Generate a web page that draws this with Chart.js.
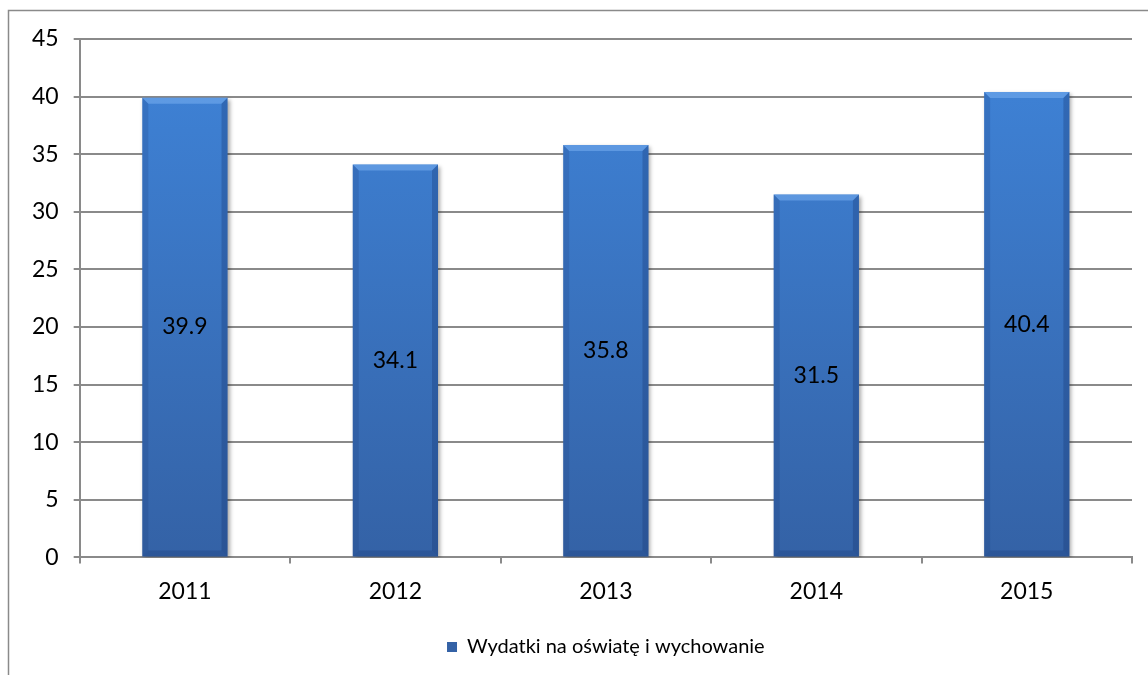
<!DOCTYPE html>
<html>
<head>
<meta charset="utf-8">
<script src="https://cdn.jsdelivr.net/npm/chart.js@4/dist/chart.umd.min.js"></script>
<style>
  html, body { margin: 0; padding: 0; background: #fff; }
  #wrap { width: 1148px; height: 675px; }
</style>
</head>
<body>
<div id="wrap"><canvas id="chart"></canvas></div>
<script>
// data
const years = ['2011', '2012', '2013', '2014', '2015']
const spending = [39.9, 34.1, 35.8, 31.5, 40.4]
const seriesName = 'Wydatki na oświatę i wychowanie'
const yTicks = { min: 0, max: 45, step: 5 }

const FONT = 'Lato, Carlito, Calibri, sans-serif'

// bar colour: blue fading darker towards the bottom
const barFill = (context) => {
  const { ctx, chartArea } = context.chart
  if (!chartArea) return '#3a76c8'
  const g = ctx.createLinearGradient(0, chartArea.top, 0, chartArea.bottom)
  g.addColorStop(0, '#3f84d9')
  g.addColorStop(1, '#3462a6')
  return g
}

// outer frame of the chart object (left + top edges visible)
const framePlugin = {
  id: 'frame',
  beforeDraw (chart) {
    const ctx = chart.ctx
    ctx.save()
    ctx.strokeStyle = '#8a8a8a'
    ctx.lineWidth = 1.5
    ctx.beginPath()
    ctx.moveTo(8.5, chart.height)
    ctx.lineTo(8.5, 10.5)
    ctx.lineTo(chart.width, 10.5)
    ctx.stroke()
    ctx.restore()
  }
}

// soft shadow under the bars
const shadowPlugin = {
  id: 'barShadow',
  beforeDatasetsDraw (chart) {
    const ctx = chart.ctx
    ctx.save()
    ctx.shadowColor = 'rgba(0,0,0,0.35)'
    ctx.shadowBlur = 4
    ctx.shadowOffsetX = 2
    ctx.shadowOffsetY = 2
  },
  afterDatasetsDraw (chart) {
    chart.ctx.restore()
  }
}

// bevel look: light top edge, darker sides
const bevelPlugin = {
  id: 'bevel',
  afterDatasetsDraw (chart) {
    const ctx = chart.ctx
    const meta = chart.getDatasetMeta(0)
    ctx.save()
    meta.data.forEach((bar) => {
      const half = bar.width / 2
      const l = bar.x - half
      const r = bar.x + half
      const t = bar.y
      const b = bar.base
      const d = 6
      ctx.fillStyle = 'rgba(120,175,240,0.55)'
      ctx.beginPath()
      ctx.moveTo(l, t)
      ctx.lineTo(r, t)
      ctx.lineTo(r - d, t + d)
      ctx.lineTo(l + d, t + d)
      ctx.closePath()
      ctx.fill()
      ctx.fillStyle = 'rgba(20,50,110,0.18)'
      ctx.beginPath()
      ctx.moveTo(l, t)
      ctx.lineTo(l + d, t + d)
      ctx.lineTo(l + d, b - d)
      ctx.lineTo(l, b)
      ctx.closePath()
      ctx.fill()
      ctx.fillStyle = 'rgba(20,50,110,0.3)'
      ctx.beginPath()
      ctx.moveTo(r, t)
      ctx.lineTo(r - d, t + d)
      ctx.lineTo(r - d, b - d)
      ctx.lineTo(r, b)
      ctx.closePath()
      ctx.fill()
      ctx.fillStyle = 'rgba(20,50,110,0.25)'
      ctx.beginPath()
      ctx.moveTo(l, b)
      ctx.lineTo(l + d, b - d)
      ctx.lineTo(r - d, b - d)
      ctx.lineTo(r, b)
      ctx.closePath()
      ctx.fill()
    })
    ctx.restore()
  }
}

// values written in the middle of each bar
const valueLabels = {
  id: 'valueLabels',
  afterDatasetsDraw (chart) {
    const ctx = chart.ctx
    const meta = chart.getDatasetMeta(0)
    ctx.save()
    ctx.font = '23px ' + FONT
    ctx.fillStyle = '#000'
    ctx.textAlign = 'center'
    ctx.textBaseline = 'middle'
    meta.data.forEach((bar, i) => {
      const v = chart.data.datasets[0].data[i]
      ctx.fillText(v.toFixed(1), bar.x, (bar.y + bar.base) / 2)
    })
    ctx.restore()
  }
}

new Chart(document.getElementById('chart'), {
  type: 'bar',
  data: {
    labels: years,
    datasets: [{
      label: seriesName,
      data: spending,
      backgroundColor: barFill,
      borderWidth: 0,
      categoryPercentage: 1,
      barPercentage: 0.405
    }]
  },
  options: {
    responsive: true,
    maintainAspectRatio: false,
    animation: false,
    layout: { padding: { left: 17, right: 16, top: 39, bottom: 8 } },
    plugins: {
      title: { display: false },
      tooltip: { enabled: false },
      legend: {
        position: 'bottom',
        fullSize: false,
        labels: {
          boxWidth: 10,
          boxHeight: 10,
          padding: 18,
          color: '#000',
          font: { family: FONT, size: 20 }
        }
      }
    },
    scales: {
      x: {
        grid: {
          display: true,
          offset: true,
          drawOnChartArea: false,
          tickLength: 6,
          color: '#8a8a8a',
          lineWidth: 2
        },
        border: { color: '#8a8a8a', width: 2 },
        ticks: {
          color: '#000',
          padding: 14,
          font: { family: FONT, size: 23 }
        }
      },
      y: {
        min: yTicks.min,
        max: yTicks.max,
        ticks: {
          stepSize: yTicks.step,
          color: '#000',
          padding: 15,
          font: { family: FONT, size: 23 }
        },
        grid: {
          color: '#8a8a8a',
          lineWidth: 2,
          tickLength: 6
        },
        border: { color: '#8a8a8a', width: 2 }
      }
    }
  },
  plugins: [framePlugin, shadowPlugin, bevelPlugin, valueLabels]
})
</script>
</body>
</html>
